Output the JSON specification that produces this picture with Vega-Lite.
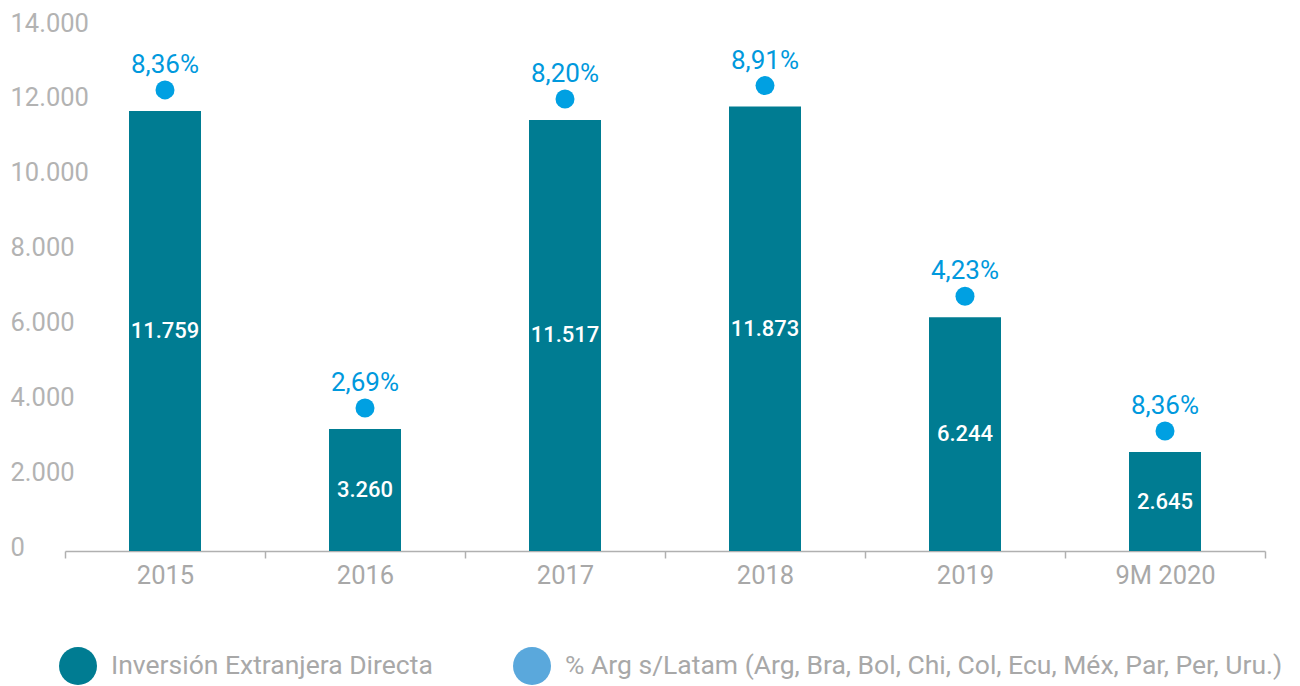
{
  "$schema": "https://vega.github.io/schema/vega-lite/v6.json",
  "width": 1200,
  "height": 524,
  "autosize": {"type": "none"},
  "padding": {"left": 65, "top": 27, "right": 35, "bottom": 135},
  "background": "white",
  "config": {
    "view": {"stroke": null},
    "font": "Roboto",
    "locale": {"number": {"decimal": ",", "thousands": ".", "grouping": [3], "currency": ["$", ""]}}
  },
  "data": {
    "values": [
      {"year": "2015", "value": 11759, "pct": 0.0836},
      {"year": "2016", "value": 3260, "pct": 0.0269},
      {"year": "2017", "value": 11517, "pct": 0.0820},
      {"year": "2018", "value": 11873, "pct": 0.0891},
      {"year": "2019", "value": 6244, "pct": 0.0423},
      {"year": "9M 2020", "value": 2645, "pct": 0.0836}
    ]
  },
  "transform": [{"calculate": "datum.value / 2", "as": "mid"}],
  "encoding": {
    "x": {
      "field": "year",
      "type": "nominal",
      "sort": null,
      "scale": {"paddingInner": 0, "paddingOuter": 0},
      "axis": {
        "title": null,
        "labelAngle": 0,
        "labelFontSize": 25.5,
        "labelColor": "#a8a8a8",
        "labelPadding": 5,
        "domainColor": "#b0b0b0",
        "domainWidth": 1.5,
        "tickColor": "#b0b0b0",
        "tickWidth": 1.5,
        "tickSize": 7,
        "tickBand": "extent",
        "grid": false
      }
    }
  },
  "layer": [
    {
      "mark": {"type": "bar", "width": {"band": 0.36}},
      "encoding": {
        "y": {
          "field": "value",
          "type": "quantitative",
          "scale": {"domain": [0, 14000], "nice": false},
          "axis": {
            "title": null,
            "grid": false,
            "domain": false,
            "ticks": false,
            "tickSize": 0,
            "labelAlign": "left",
            "labelPadding": 55,
            "labelOffset": -4,
            "labelFontSize": 25.5,
            "labelColor": "#b3b3b3",
            "values": [0, 2000, 4000, 6000, 8000, 10000, 12000, 14000],
            "format": ",d"
          }
        },
        "color": {
          "datum": "Inversión Extranjera Directa",
          "type": "nominal",
          "scale": {
            "domain": ["Inversión Extranjera Directa", "% Arg s/Latam (Arg, Bra, Bol, Chi, Col, Ecu, Méx, Par, Per, Uru.)"],
            "range": ["#007c92", "#5aa8dc"]
          },
          "legend": {
            "title": null,
            "orient": "none",
            "direction": "horizontal",
            "legendX": -6,
            "legendY": 620,
            "padding": 0,
            "symbolType": "circle",
            "symbolSize": 1444,
            "symbolOpacity": 1,
            "symbolStrokeWidth": 0,
            "labelFontSize": 26.5,
            "labelColor": "#a8a8a8",
            "labelOffset": 14,
            "columnPadding": 80,
            "labelLimit": 900
          }
        }
      }
    },
    {
      "mark": {"type": "text", "color": "white", "fontSize": 22, "fontWeight": 500},
      "encoding": {
        "y": {"field": "mid", "type": "quantitative"},
        "text": {"field": "value", "type": "quantitative", "format": ",d"}
      }
    },
    {
      "mark": {"type": "point", "shape": "circle", "filled": true, "opacity": 1, "color": "#00a0e2", "size": 361, "yOffset": -21},
      "encoding": {
        "y": {"field": "value", "type": "quantitative"}
      }
    },
    {
      "mark": {"type": "text", "color": "#0099dd", "fontSize": 26, "yOffset": -46},
      "encoding": {
        "y": {"field": "value", "type": "quantitative"},
        "text": {"field": "pct", "type": "quantitative", "format": ".2%"}
      }
    }
  ]
}
